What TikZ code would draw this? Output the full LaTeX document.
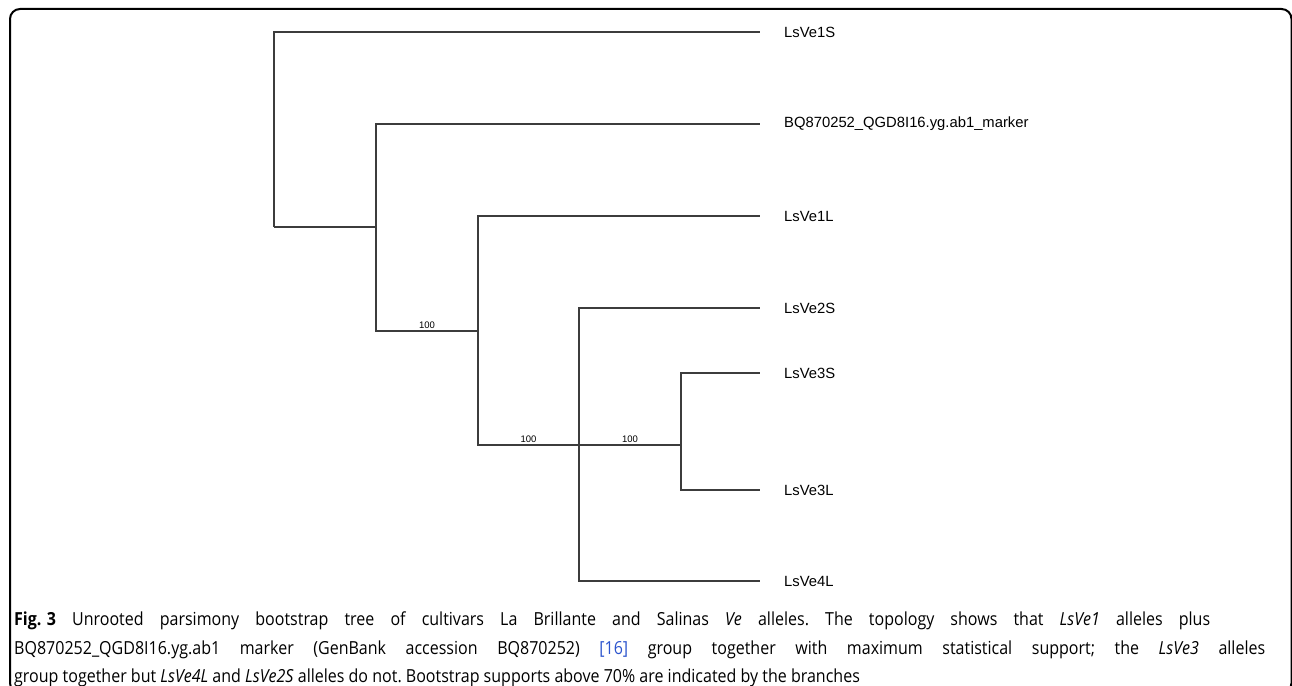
\documentclass[tikz,border=0pt]{standalone}
\usepackage{fontspec}
\setmainfont{Open Sans}[FakeStretch=0.89]
\newfontfamily\treefont{Liberation Sans}
\usepackage{xcolor}
\definecolor{treegrey}{RGB}{60,60,60}
\definecolor{reflink}{RGB}{45,85,205}
\frenchspacing

\begin{document}
\begin{tikzpicture}[x=1pt,y=-1pt,
    leaf/.style={anchor=west, inner xsep=24pt, inner ysep=0pt, font=\treefont\fontsize{14.8}{16}\selectfont},
    branch/.style={draw=treegrey, line width=1.2pt},
    boot/.style={above, inner sep=1.5pt, font=\treefont\fontsize{9.5}{10}\selectfont},
    capline/.style={anchor=base west, inner sep=0pt, font=\fontsize{18}{21}\selectfont}]
    \useasboundingbox (0,0) rectangle (1292,685);
    \def\xe{760};
    % frame
    \draw[line width=2pt, rounded corners=10pt] (10,9) rectangle (1291.5,693);
    % leaves
    \node[leaf] at (\xe, 32) (LsVe1S) {LsVe1S};
    \node[leaf] at (\xe, 124) (BQ) {BQ870252\_QGD8I16.yg.ab1\_marker};
    \node[leaf] at (\xe, 216) (LsVe1L) {LsVe1L};
    \node[leaf] at (\xe, 308) (LsVe2S) {LsVe2S};
    \node[leaf] at (\xe, 373) (LsVe3S) {LsVe3S};
    \node[leaf] at (\xe, 490) (LsVe3L) {LsVe3L};
    \node[leaf] at (\xe, 581) (LsVe4L) {LsVe4L};
    % inner nodes
    \coordinate (r) at (274, 227);
    \coordinate (a) at (376, 227);
    \coordinate (b) at (478, 331);
    \coordinate (c) at (579, 445);
    \coordinate (d) at (681, 445);
    \draw[branch] (r) |- (LsVe1S.west);
    \draw[branch] (r) -- (a);
    \draw[branch] (a) |- (BQ.west);
    \draw[branch] (a) |- (b) node[boot, pos=0.75] {100};
    \draw[branch] (b) |- (LsVe1L.west);
    \draw[branch] (b) |- (c) node[boot, pos=0.75] {100};
    \draw[branch] (c) |- (LsVe2S.west);
    \draw[branch] (c) |- (LsVe4L.west);
    \draw[branch] (c) -- (d) node[boot, midway] {100};
    \draw[branch] (d) |- (LsVe3S.west);
    \draw[branch] (d) |- (LsVe3L.west);
    % caption
    \node[capline] at (14, 625) (cap1) {\makebox[1196pt][s]{\textbf{Fig.\hspace{0.3em}3} Unrooted parsimony bootstrap tree of cultivars La Brillante and Salinas \textit{Ve} alleles. The topology shows that \textit{LsVe1} alleles plus}};
    \node[capline] at (14, 654) (cap2) {\makebox[1251pt][s]{BQ870252\_QGD8I16.yg.ab1 marker (GenBank accession BQ870252) \textcolor{reflink}{[16]} group together with maximum statistical support; the \textit{LsVe3} alleles}};
    \node[capline] at (14, 682) (cap3) {group together but \textit{LsVe4L} and \textit{LsVe2S} alleles do not. Bootstrap supports above 70\% are indicated by the branches};
\end{tikzpicture}
\end{document}
